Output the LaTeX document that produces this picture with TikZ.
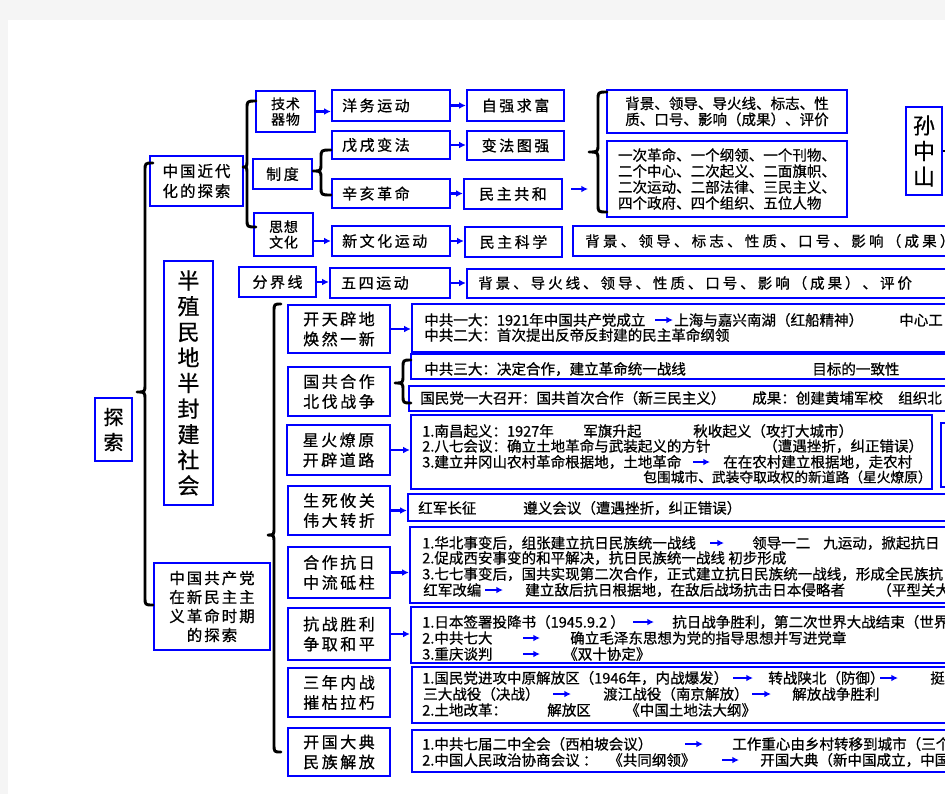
\documentclass[tikz,border=0pt]{standalone}
\usepackage{fontspec}
\setmainfont{Noto Sans CJK SC}[FakeBold=0.7]
\usetikzlibrary{arrows.meta}
\newdimen\spk
\def\spc#1{\ifx#1\relax\else#1\kern\spk\expandafter\spc\fi}
\newcommand\lsp[1]{\spc#1\relax\kern-\spk}
\newcommand\bx[7][]{% style, name, x1, y1, x2, y2, text
  \node[box,#1,minimum width={(#5-#3)*0.75pt},minimum height={(#6-#4)*0.75pt}]
    (#2) at ({(#3+#5)/2},{(#4+#6)/2}) {#7};}
\newcommand\brc[6]{% x, ytop, xend, ytip, xtip, ybot
  \draw[bracestyle] (#3,#2) .. controls (#1,#2) .. (#1,{#2+8}) -- (#1,{#4-8})
    .. controls (#1,#4) .. (#5,#4) .. controls (#1,#4) .. (#1,{#4+8})
    -- (#1,{#6-8}) .. controls (#1,#6) .. (#3,#6);}
\tikzset{
  box/.style={draw=blue, line width=1.7pt, inner sep=0pt, align=center},
  lab/.style={font={\fontsize{11.25}{13}\selectfont\spk=1.9pt}},
  labs/.style={font={\fontsize{10.5}{11.6}\selectfont\spk=0.6pt}},
  stg/.style={font={\fontsize{12}{15}\selectfont\spk=1.9pt}},
  mid/.style={font={\fontsize{11.6}{15}\selectfont\spk=1.5pt}},
  midb/.style={font={\fontsize{11.6}{14.25}\selectfont\spk=1.5pt}},
  big/.style={font={\fontsize{16.5}{19.2}\selectfont}},
  bj/.style={align=left, font={\fontsize{10.9}{12}\selectfont}},
  ltxt/.style={inner sep=0pt, anchor=west, font={\fontsize{11.25}{13}\selectfont\spk=1.9pt}},
  txt/.style={inner sep=0pt, anchor=west, font={\fontsize{10.9}{11.6}\selectfont}},
  wide/.style={inner sep=0pt, anchor=west, font={\fontsize{10.9}{11.6}\selectfont\spk=2.4pt}},
  arr/.style={blue, line width=1.6pt, -{Latex[length=5pt,width=5pt]}},
  iarr/.style={blue, line width=1.4pt, -{Latex[length=5pt,width=5pt]}},
  bracestyle/.style={draw=black, line width=2.2pt, line cap=round, line join=round},
}
\begin{document}
\begin{tikzpicture}[x=0.75pt,y=-0.75pt]
\useasboundingbox (0,0) rectangle (945,794);
\clip (0,0) rectangle (945,794);
\fill[white] (0,0) rectangle (945,794);
\fill[black!4] (0,0) rectangle (8,794);
\fill[black!4] (0,0) rectangle (945,20);

% ---- left column
\bx[font={\fontsize{15}{18.75}\selectfont}]{tansuo}{95}{398}{132}{461}{探\\索}
\bx[mid]{jindai}{150}{156}{243}{206}{\lsp{中国近代}\\\lsp{化的探索}}
\bx[big]{banzhi}{164}{261}{213}{505}{半\\殖\\民\\地\\半\\封\\建\\社\\会}
\bx[midb]{zhonggong}{154}{563}{270}{650}{\lsp{中国共产党}\\\lsp{在新民主主}\\\lsp{义革命时期}\\\lsp{的探索}}

% ---- modernisation branch
\bx[labs]{jishu}{256}{91}{315}{132}{\lsp{技术}\\\lsp{器物}}
\bx[lab]{zhidu}{253}{159}{312}{189}{\lsp{制度}}
\bx[labs]{sixiang}{254}{213}{313}{256}{\lsp{思想}\\\lsp{文化}}
\bx[lab]{fenjie}{239}{267}{316}{297}{\lsp{分界线}}

\bx{yangwu}{332}{90}{450}{121}{}
\node[ltxt] (yangwut) at ([xshift=8.25pt]yangwu.west) {\lsp{洋务运动}};
\bx[lab]{ziqiang}{467}{90}{564}{121}{\lsp{自强求富}}
\bx{wuxu}{332}{131}{450}{159}{}
\node[ltxt] (wuxut) at ([xshift=8.25pt]wuxu.west) {\lsp{戊戌变法}};
\bx[lab]{bianfa}{467}{131}{564}{160}{\lsp{变法图强}}
\bx{xinhai}{332}{179}{450}{208}{}
\node[ltxt] (xinhait) at ([xshift=8.25pt]xinhai.west) {\lsp{辛亥革命}};
\bx[lab]{minzhu}{464}{179}{562}{209}{\lsp{民主共和}}
\bx{xinwenhua}{332}{226}{450}{256}{}
\node[ltxt] (xinwenhuat) at ([xshift=8.25pt]xinwenhua.west) {\lsp{新文化运动}};
\bx[lab]{kexue}{465}{227}{562}{257}{\lsp{民主科学}}
\bx{wusi}{330}{268}{450}{298}{}
\node[ltxt] (wusit) at ([xshift=9pt]wusi.west) {\lsp{五四运动}};

\bx{xwhc}{573}{226}{960}{256}{}
\node[wide] (xwhct) at (585,241) {\lsp{背景、领导、标志、性质、口号、影响（成果）}};
\bx{wusic}{467}{269}{960}{298}{}
\node[wide, font={\fontsize{10.9}{11.6}\selectfont\spk=2.2pt}] (wusict) at (478,283) {\lsp{背景、导火线、领导、性质、口号、影响（成果）、评价}};

\bx[bj]{bj1}{607}{90}{847}{133}{背景、领导、导火线、标志、性\\质、口号、影响（成果）、评价}
\bx[bj]{bj2}{607}{141}{847}{217}{一次革命、一个纲领、一个刊物、\\二个中心、二次起义、二面旗帜、\\二次运动、二部法律、三民主义、\\四个政府、四个组织、五位人物}
\bx[big]{sunzs}{906}{107}{942}{195}{孙\\中\\山}
\draw[black, line width=1pt] (sunzs.east) -- ++(8,0);

% top arrows
\draw[arr] (jishu.east) -- (jishu.east -| yangwu.west);
\draw[arr] (yangwu.east) -- (yangwu.east -| ziqiang.west);
\draw[arr] (wuxu.east) -- (wuxu.east -| bianfa.west);
\draw[arr] (xinhai.east) -- (xinhai.east -| minzhu.west);
\draw[arr] (sixiang.east |- xinwenhua.west) -- (xinwenhua.west);
\draw[arr] (xinwenhua.east) -- (xinwenhua.east -| kexue.west);
\draw[arr] (fenjie.east) -- (fenjie.east -| wusi.west);
\draw[arr] (wusi.east) -- (wusi.east -| wusic.west);
\coordinate (mzB) at (588,189);
\draw[arr, shorten <=6pt] (minzhu.east |- mzB) -- (mzB);

% ---- stages
\bx[stg]{s1}{288}{305}{390}{353}{\lsp{开天辟地}\\\lsp{焕然一新}}
\bx[stg]{s2}{288}{367}{390}{416}{\lsp{国共合作}\\\lsp{北伐战争}}
\bx[stg]{s3}{287}{425}{390}{475}{\lsp{星火燎原}\\\lsp{开辟道路}}
\bx[stg]{s4}{288}{486}{390}{535}{\lsp{生死攸关}\\\lsp{伟大转折}}
\bx[stg]{s5}{288}{547}{390}{598}{\lsp{合作抗日}\\\lsp{中流砥柱}}
\bx[stg]{s6}{288}{608}{390}{660}{\lsp{抗战胜利}\\\lsp{争取和平}}
\bx[stg]{s7}{288}{668}{390}{717}{\lsp{三年内战}\\\lsp{摧枯拉朽}}
\bx[stg]{s8}{288}{728}{390}{776}{\lsp{开国大典}\\\lsp{民族解放}}

% content boxes
\bx{cA}{412}{304}{960}{352}{}
\bx{cB1}{411}{354}{960}{379}{}
\bx{cB2}{409}{386}{960}{411}{}
\bx{cC}{411}{415}{932}{489}{}
\bx{cCx}{941}{423}{960}{487}{}
\bx{cD}{408}{494}{960}{521}{}
\bx{cE}{410}{527}{960}{603}{}
\bx{cF}{411}{607}{960}{663}{}
\bx{cG}{412}{667}{960}{723}{}
\bx{cH}{412}{730}{960}{772}{}

\draw[arr] (s1.east) -- (s1.east -| cA.west);
\draw[arr] (s3.east) -- (s3.east -| cC.west);
\draw[arr] (s4.east) -- (s4.east -| cD.west);
\draw[arr] (s5.east) -- (s5.east -| cE.west);
\draw[arr] (s6.east) -- (s6.east -| cF.west);

% box A
\node[txt] (a11) at (424,320) {中共一大：1921年中国共产党成立};
\node[txt] (a12) at (674,320) {上海与嘉兴南湖（红船精神）};
\node[txt] (a13) at (899,320) {中心工};
\draw[iarr] (655,0 |- a11.east) -- (673,0 |- a12.west);
\node[txt] (a21) at (424,335) {中共二大：首次提出反帝反封建的民主革命纲领};
% box B
\node[txt] (b11) at (424,369) {中共三大：决定合作，建立革命统一战线};
\node[txt] (b12) at (812,369) {目标的一致性};
\node[txt] (b21) at (420,398) {国民党一大召开：国共首次合作（新三民主义）};
\node[txt] (b22) at (752,398) {成果：创建黄埔军校};
\node[txt] (b23) at (898,398) {组织北};
% box C
\node[txt] (c11) at (422,431) {1.南昌起义：1927年};
\node[txt] (c12) at (583,431) {军旗升起};
\node[txt] (c13) at (693,431) {秋收起义（攻打大城市）};
\node[txt] (c21) at (422,446) {2.八七会议：确立土地革命与武装起义的方针};
\node[txt] (c22) at (763,446) {（遭遇挫折，纠正错误）};
\node[txt] (c31) at (422,462) {3.建立井冈山农村革命根据地，土地革命};
\node[txt] (c32) at (723,462) {在在农村建立根据地，走农村};
\draw[iarr] (693,0 |- c31.east) -- (710,0 |- c32.west);
\node[txt, font={\fontsize{10.3}{11}\selectfont}] (c41) at (643,477) {包围城市、武装夺取政权的新道路（星火燎原）};
% box D
\node[txt] (d11) at (418,508) {红军长征};
\node[txt] (d12) at (523,508) {遵义会议（遭遇挫折，纠正错误）};
% box E
\node[txt] (e11) at (422,543) {1.华北事变后，组张建立抗日民族统一战线};
\node[txt] (e12) at (752,543) {领导一二};
\node[txt] (e13) at (823,543) {九运动，掀起抗日};
\draw[iarr] (710,0 |- e11.east) -- (724,0 |- e12.west);
\node[txt] (e21) at (422,558) {2.促成西安事变的和平解决，抗日民族统一战线 初步形成};
\node[txt] (e31) at (422,574) {3.七七事变后，国共实现第二次合作，正式建立抗日民族统一战线，形成全民族抗};
\node[txt] (e41) at (423,590) {红军改编};
\node[txt] (e42) at (525,590) {建立敌后抗日根据地，在敌后战场抗击日本侵略者};
\node[txt] (e43) at (877,590) {（平型关大};
\draw[iarr] (485,0 |- e41.east) -- (503,0 |- e42.west);
% box F
\node[txt] (f11) at (422,622) {1.日本签署投降书（1945.9.2 ）};
\node[txt] (f12) at (672,622) {抗日战争胜利，第二次世界大战结束（世界};
\draw[iarr] (633,0 |- f11.east) -- (654,0 |- f12.west);
\node[txt] (f21) at (422,638) {2.中共七大};
\node[txt] (f22) at (570,638) {确立毛泽东思想为党的指导思想并写进党章};
\draw[iarr] (523,0 |- f21.east) -- (540,0 |- f22.west);
\node[txt] (f31) at (422,654) {3.重庆谈判};
\node[txt] (f32) at (563,654) {《双十协定》};
\draw[iarr] (523,0 |- f31.east) -- (540,0 |- f32.west);
% box G
\node[txt] (g11) at (422,678) {1.国民党进攻中原解放区（1946年，内战爆发）};
\node[txt] (g12) at (768,678) {转战陕北（防御）};
\node[txt] (g13) at (930,678) {挺};
\draw[iarr] (733,0 |- g11.east) -- (753,0 |- g12.west);
\draw[iarr] (880,0 |- g12.east) -- (898,0 |- g13.west);
\node[txt] (g21) at (423,694) {三大战役（决战）};
\node[txt] (g22) at (603,694) {渡江战役（南京解放）};
\node[txt] (g23) at (792,694) {解放战争胜利};
\draw[iarr] (553,0 |- g21.east) -- (571,0 |- g22.west);
\draw[iarr] (752,0 |- g22.east) -- (771,0 |- g23.west);
\node[txt] (g31) at (422,710) {2.土地改革：};
\node[txt] (g32) at (547,710) {解放区};
\node[txt] (g33) at (625,710) {《中国土地法大纲》};
% box H
\node[txt] (h11) at (422,744) {1.中共七届二中全会（西柏坡会议）};
\node[txt] (h12) at (732,744) {工作重心由乡村转移到城市（三个};
\draw[iarr] (685,0 |- h11.east) -- (703,0 |- h12.west);
\node[txt] (h21) at (422,760) {2.中国人民政治协商会议 ：};
\node[txt] (h22) at (608,760) {《共同纲领》};
\node[txt] (h23) at (760,760) {开国大典（新中国成立，中国};
\draw[iarr] (722,0 |- h22.east) -- (739,0 |- h23.west);

% ---- braces
\brc{145}{163}{153}{392}{137}{605}
\brc{247}{101}{256}{167}{243}{227}
\brc{321}{150}{331}{171}{313}{195}
\brc{598}{92}{607}{152}{589}{212}
\brc{403}{360}{411}{383}{395}{403}
\brc{274}{304}{281}{535}{268}{752}
\end{tikzpicture}
\end{document}
